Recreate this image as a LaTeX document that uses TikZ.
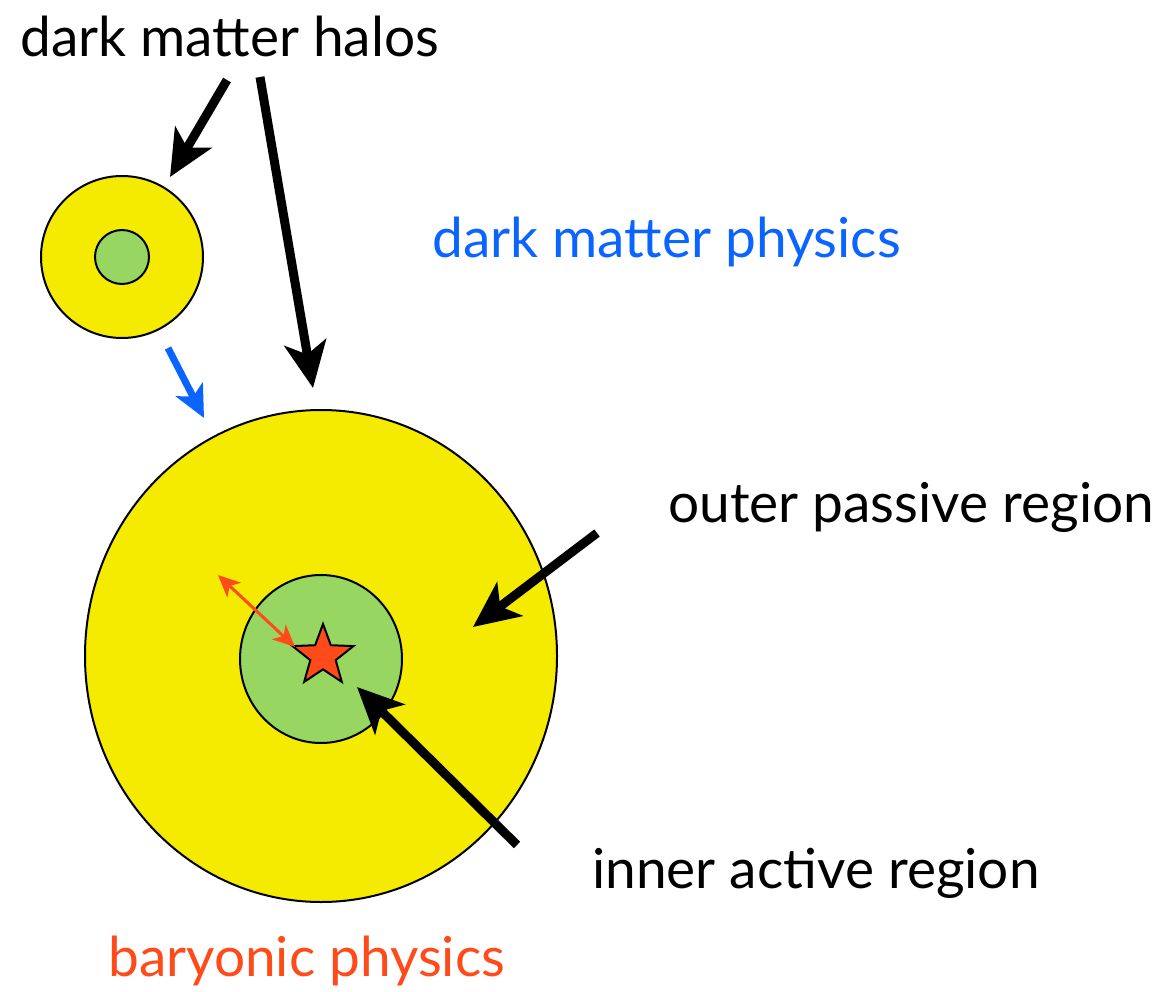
\documentclass[tikz,border=0pt]{standalone}
\usepackage{fontspec}
\setmainfont{Lato}
\usetikzlibrary{arrows.meta,shapes.geometric}
\definecolor{halo}{HTML}{F4EB00}
\definecolor{core}{HTML}{97D660}
\definecolor{starred}{HTML}{FF4A1A}
\definecolor{dmblue}{HTML}{0A64FF}
\definecolor{barred}{HTML}{FF4A1A}
\tikzset{
  haloshape/.style={ellipse,draw=black,line width=2pt,fill=halo,inner sep=0pt},
  coreshape/.style={ellipse,draw=black,line width=2pt,fill=core,inner sep=0pt},
  bigarrow/.style={line width=9pt,-{Stealth[length=46pt,width=42pt,inset=12pt]}},
  bluearrow/.style={draw=dmblue,line width=7pt,-{Stealth[length=32pt,width=30pt,inset=8pt]}},
  redarrow/.style={draw=starred,line width=3pt,{Stealth[length=22pt,width=20pt,inset=6pt]}-{Stealth[length=22pt,width=20pt,inset=6pt]}},
  label/.style={anchor=base west,inner sep=0pt,font=\fontsize{55}{60}\selectfont}
}
\begin{document}
\begin{tikzpicture}[x=1pt,y=-1pt]
\useasboundingbox (0,0) rectangle (1154,992);
% small halo
\node[haloshape,minimum width=162pt,minimum height=162pt] (smallhalo) at (122,257) {};
\node[coreshape,minimum width=54pt,minimum height=54pt] (smallcore) at (122,257) {};
% large halo
\node[haloshape,minimum width=472pt,minimum height=492pt] (bighalo) at (321,656) {};
\node[coreshape,minimum width=162pt,minimum height=168pt] (bigcore) at (321,659) {};
\node[star,star points=5,star point ratio=2.4,draw=black,line width=2pt,fill=starred,minimum size=64pt,inner sep=0pt] (star) at (323,656) {};
% labels
\node[label] (halos) at (20,57) {dark matter halos};
\node[label,text=dmblue] (dmphys) at (432,258) {dark matter physics};
\node[label] (outer) at (668,522) {outer passive region};
\node[label] (inner) at (592,888) {inner active region};
\node[label,text=barred] (bary) at (108,976) {baryonic physics};
% coordinates
\coordinate (a1s) at (227,80);
\coordinate (a1e) at (170,177);
\coordinate (a2s) at (260,77);
\coordinate (a2e) at (313,388);
\coordinate (bs) at (168,348);
\coordinate (be) at (204,418);
\coordinate (os) at (597,533);
\coordinate (oe) at (473,627);
\coordinate (is) at (517,845);
\coordinate (ie) at (357,687);
\coordinate (rs) at (218,575);
\coordinate (re) at (295,647);
% arrows
\draw[bigarrow] (a1s) -- (a1e);
\draw[bigarrow] (a2s) -- (a2e);
\draw[bluearrow] (bs) -- (be);
\draw[bigarrow] (os) -- (oe);
\draw[bigarrow] (is) -- (ie);
\draw[redarrow] (rs) -- (re);
\end{tikzpicture}
\end{document}
